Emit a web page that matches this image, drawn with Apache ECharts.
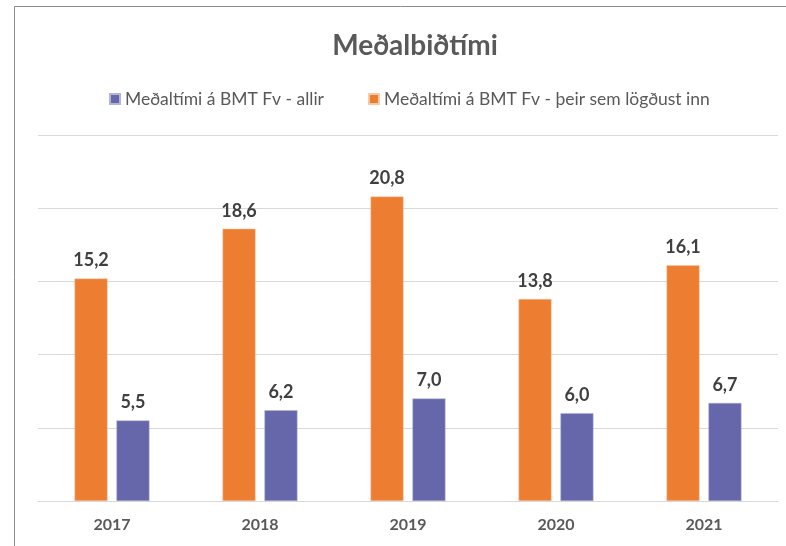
<!DOCTYPE html>
<html>
<head>
<meta charset="utf-8">
<script src="https://cdn.jsdelivr.net/npm/echarts@6/dist/echarts.min.js"></script>
<style>
  html, body { margin: 0; padding: 0; background: #fff; }
  #chart { width: 786px; height: 546px; }
</style>
</head>
<body>
<div id="chart"></div>
<script>
// gögn
const years = ['2017', '2018', '2019', '2020', '2021'];
const allir = [5.5, 6.2, 7.0, 6.0, 6.7];
const inniliggjandi = [15.2, 18.6, 20.8, 13.8, 16.1];
const nameAllir = 'Meðaltími á BMT Fv - allir';
const nameInn = 'Meðaltími á BMT Fv - þeir sem lögðust inn';

const chart = echarts.init(document.getElementById('chart'));
const font = 'Lato, "Open Sans", sans-serif';
const fmt = (p) => p.value.toFixed(1).replace('.', ',');

const labelStyle = {
  show: true,
  position: 'top',
  distance: 9,
  formatter: fmt,
  color: '#404040',
  fontFamily: font,
  fontWeight: 'bold',
  fontSize: 18
};

chart.setOption({
  animation: false,
  // rammi utan um grafið
  graphic: [{
    type: 'rect',
    shape: { x: 14.5, y: 6.5, width: 900, height: 700 },
    style: { fill: 'none', stroke: '#8c8c8c', lineWidth: 1 },
    silent: true
  }],
  title: {
    text: 'Meðalbiðtími',
    left: 410,
    textAlign: 'center',
    top: 27,
    textStyle: { fontFamily: font, fontWeight: 'bold', fontSize: 28, color: '#595959' }
  },
  legend: {
    data: [nameAllir, nameInn],
    left: 104,
    top: 85,
    width: 700,
    itemWidth: 10,
    itemHeight: 10,
    itemGap: 44,
    icon: 'rect',
    textStyle: { fontFamily: font, fontSize: 17.5, color: '#595959' }
  },
  grid: { left: 38, right: 8, top: 135, bottom: 45 },
  xAxis: {
    type: 'category',
    data: years,
    axisLine: { lineStyle: { color: '#d9d9d9', width: 1 } },
    axisTick: { show: false },
    axisLabel: { fontFamily: font, fontWeight: 'bold', fontSize: 16, color: '#595959', margin: 16 }
  },
  yAxis: {
    type: 'value',
    min: 0,
    max: 25,
    interval: 5,
    axisLabel: { show: false },
    axisLine: { show: false },
    axisTick: { show: false },
    splitLine: { lineStyle: { color: '#d9d9d9', width: 1 } }
  },
  series: [
    {
      name: nameInn,
      type: 'bar',
      data: inniliggjandi,
      barWidth: 33,
      barGap: '27%',
      itemStyle: { color: '#ED7D31', borderColor: '#f7c9a8', borderWidth: 0.5 },
      label: labelStyle
    },
    {
      name: nameAllir,
      type: 'bar',
      data: allir,
      barWidth: 33,
      itemStyle: { color: '#6667AB', borderColor: '#b3b4d6', borderWidth: 0.5 },
      label: labelStyle
    }
  ]
});
</script>
</body>
</html>
